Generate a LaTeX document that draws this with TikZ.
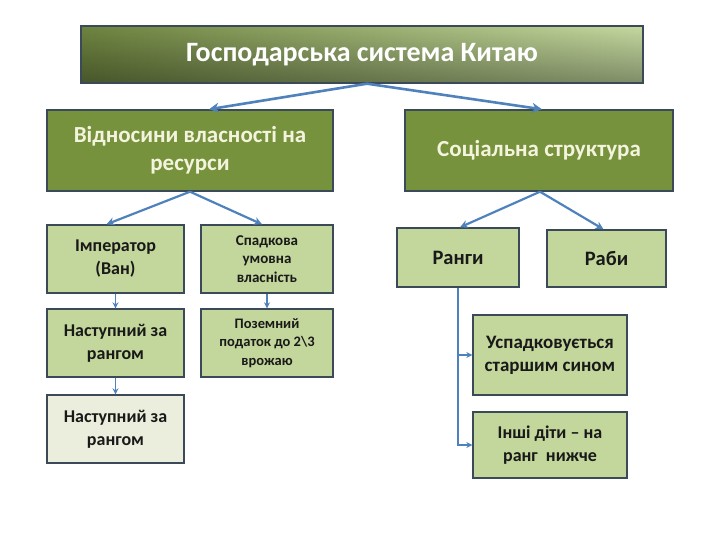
\documentclass[tikz,border=0pt]{standalone}
\usepackage{fontspec}
\setmainfont{Carlito}
\usetikzlibrary{arrows.meta,calc,fadings}
\definecolor{bordc}{HTML}{3A4A58}
\definecolor{olivef}{HTML}{76923C}
\definecolor{lightf}{HTML}{C3D69B}
\definecolor{palef}{HTML}{EBEEDC}
\definecolor{arrc}{HTML}{4F81BD}
\definecolor{creamt}{HTML}{F4F4DE}
\definecolor{tleft}{HTML}{6E8440}
\definecolor{tright}{HTML}{C5D9A0}
\tikzset{
  box/.style={draw=bordc, line width=1.4pt, align=center, inner sep=2pt},
  lvtwo/.style={box, fill=olivef, text=creamt, font=\bfseries\fontsize{23}{28}\selectfont},
  lvthree/.style={box, fill=lightf, text=black!90, font=\bfseries\fontsize{18}{23}\selectfont},
  bigarr/.style={draw=arrc, line width=2.6pt, -{Stealth[length=10pt,width=10pt]}},
  midarr/.style={draw=arrc, line width=2.2pt, -{Stealth[length=8pt,width=8pt]}},
  smallarr/.style={draw=arrc, line width=1.6pt, -{Stealth[length=6pt,width=6pt]}}
}
\begin{document}
\begin{tikzpicture}[x=1pt,y=-1pt]
\useasboundingbox (0,0) rectangle (720,540);
% title
\shade[left color=tleft, right color=tright] (81,26) rectangle (643,83);
\fill[black, opacity=0.35, path fading=north] (81,26) rectangle (643,83);
\node[box, fill=none, minimum width=562pt, minimum height=57pt,
  text=white, font=\bfseries\fontsize{28}{32}\selectfont] (title) at (362,54.5) {Господарська система Китаю};
% level 2
\node[lvtwo, minimum width=286pt, minimum height=81pt] (L) at (190,150.5) {Відносини власності на\\ресурси};
\node[lvtwo, minimum width=268pt, minimum height=81pt] (R) at (539,150.5) {Соціальна структура};
% level 3 left
\node[lvthree, minimum width=137pt, minimum height=68pt] (imp) at (115.5,259) {Імператор\\(Ван)};
\node[lvthree, minimum width=132pt, minimum height=68pt, font=\bfseries\fontsize{15}{18.5}\selectfont] (spad) at (267,259) {Спадкова\\умовна\\власність};
\node[lvthree, minimum width=137pt, minimum height=68pt] (nas1) at (115.5,343) {Наступний за\\рангом};
\node[lvthree, minimum width=132pt, minimum height=68pt, font=\bfseries\fontsize{14.5}{18.5}\selectfont] (poz) at (267,343) {Поземний\\податок до 2\textbackslash 3\\врожаю};
\node[lvthree, fill=palef, minimum width=137pt, minimum height=68pt] (nas2) at (115.5,429) {Наступний за\\рангом};
% level 3 right
\node[lvthree, minimum width=122pt, minimum height=59pt, font=\bfseries\fontsize{20.5}{24}\selectfont] (rangy) at (458,257.5) {Ранги};
\node[lvthree, minimum width=119pt, minimum height=57pt, font=\bfseries\fontsize{20.5}{24}\selectfont] (raby) at (606.5,258.5) {Раби};
\node[lvthree, minimum width=154pt, minimum height=80pt, font=\bfseries\fontsize{19}{23}\selectfont] (usp) at (550,355) {Успадковується\\старшим сином};
\node[lvthree, minimum width=154pt, minimum height=66pt, font=\bfseries\fontsize{18}{23}\selectfont] (inshi) at (550,445) {Інші діти – на\\ранг~ нижче};
% connectors
\draw[bigarr] ($(title.south)+(5,0)$) -- ($(L.north)+(19,0)$);
\draw[bigarr] ($(title.south)+(5,0)$) -- ($(R.north)+(3,0)$);
\draw[midarr] (L.south) -- ($(imp.north)+(-9,0)$);
\draw[midarr] (L.south) -- ($(spad.north)+(-5,0)$);
\draw[midarr] ($(R.south)+(1,0)$) -- ($(rangy.north)+(2,0)$);
\draw[midarr] ($(R.south)+(1,0)$) -- ($(raby.north)+(-3,0)$);
\draw[smallarr] (imp.south) -- (nas1.north);
\draw[smallarr] (spad.south) -- (poz.north);
\draw[smallarr] (nas1.south) -- (nas2.north);
\draw[draw=arrc, line width=2.2pt, -{Stealth[length=6pt,width=6pt]}] (rangy.south) |- (inshi.west);
\draw[draw=arrc, line width=2.2pt, -{Stealth[length=6pt,width=6pt]}] (rangy.south |- usp.west) -- (usp.west);
\end{tikzpicture}
\end{document}
